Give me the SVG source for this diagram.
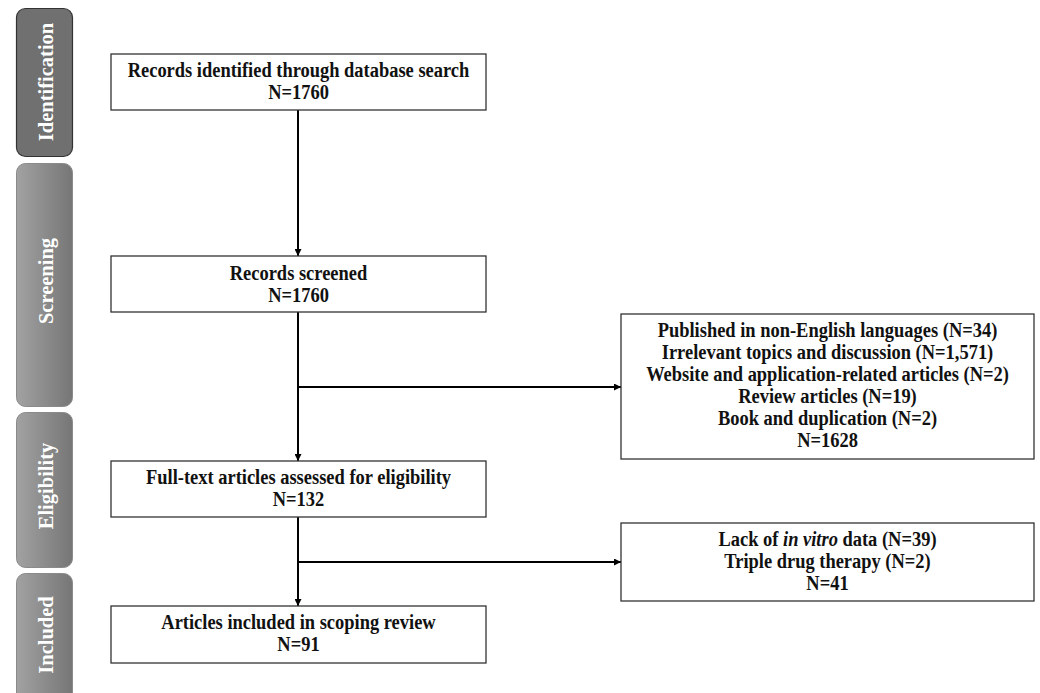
<svg xmlns="http://www.w3.org/2000/svg" width="1040" height="693" viewBox="0 0 1040 693">
<defs>
<linearGradient id="g" x1="0" y1="0" x2="1" y2="0">
<stop offset="0" stop-color="#a2a2a2"/>
<stop offset="1" stop-color="#767676"/>
</linearGradient>
<marker id="ah" viewBox="0 0 10 10" refX="10" refY="5" markerWidth="7" markerHeight="7" markerUnits="userSpaceOnUse" orient="auto">
<path d="M0,0 L10,5 L0,10 z" fill="#000"/>
</marker>
<style>
.box{fill:#fff;stroke:#333;stroke-width:1.3}
.t{font-family:"Liberation Serif","Times New Roman",serif;font-weight:bold;font-size:20.5px;fill:#111;text-anchor:middle}
.side{font-family:"Liberation Serif","Times New Roman",serif;font-weight:bold;font-size:20.5px;fill:#fff;text-anchor:middle}
.bar{fill:url(#g);stroke:#8a8a8a;stroke-width:1}
.line{fill:none;stroke:#000;stroke-width:2}
</style>
</defs>
<rect width="1040" height="693" fill="#fff"/>

<g id="phase-identification">
<rect x="16.5" y="8.5" width="56" height="148" rx="9" fill="#707070" stroke="#333" stroke-width="1.2"/>
<text class="side" transform="translate(53,82) rotate(-90)">Identification</text>
</g>
<g id="phase-screening">
<rect class="bar" x="16.5" y="163.5" width="56" height="243" rx="9"/>
<text class="side" transform="translate(53,281) rotate(-90)">Screening</text>
</g>
<g id="phase-eligibility">
<rect class="bar" x="16.5" y="412.5" width="56" height="155" rx="9"/>
<text class="side" transform="translate(53,486) rotate(-90)">Eligibility</text>
</g>
<g id="phase-included">
<rect class="bar" x="16.5" y="573.5" width="56" height="130" rx="9"/>
<text class="side" transform="translate(53,635) rotate(-90)">Included</text>
</g>

<g id="connectors">
<line class="line" x1="298" y1="110" x2="298" y2="256" marker-end="url(#ah)"/>
<line class="line" x1="298" y1="312" x2="298" y2="461" marker-end="url(#ah)"/>
<line class="line" x1="298" y1="387" x2="621" y2="387" marker-end="url(#ah)"/>
<line class="line" x1="298" y1="517" x2="298" y2="606" marker-end="url(#ah)"/>
<line class="line" x1="298" y1="562" x2="621" y2="562" marker-end="url(#ah)"/>
</g>

<g id="records-identified">
<rect class="box" x="111" y="54" width="375" height="56"/>
<text class="t" transform="translate(298.5,77) scale(0.9,1)">Records identified through database search</text>
<text class="t" transform="translate(298.5,99) scale(0.9,1)">N=1760</text>
</g>
<g id="records-screened">
<rect class="box" x="111" y="256" width="375" height="56"/>
<text class="t" transform="translate(298.5,280) scale(0.9,1)">Records screened</text>
<text class="t" transform="translate(298.5,302) scale(0.9,1)">N=1760</text>
</g>
<g id="full-text">
<rect class="box" x="111" y="461" width="375" height="56"/>
<text class="t" transform="translate(298.5,484) scale(0.9,1)">Full-text articles assessed for eligibility</text>
<text class="t" transform="translate(298.5,506) scale(0.9,1)">N=132</text>
</g>
<g id="included">
<rect class="box" x="111" y="606" width="375" height="57"/>
<text class="t" transform="translate(298.5,629) scale(0.9,1)">Articles included in scoping review</text>
<text class="t" transform="translate(298.5,651) scale(0.9,1)">N=91</text>
</g>
<g id="excluded-screening">
<rect class="box" x="621" y="314" width="413" height="145"/>
<text class="t" transform="translate(827.5,337) scale(0.9,1)">Published in non-English languages (N=34)</text>
<text class="t" transform="translate(827.5,359) scale(0.9,1)">Irrelevant topics and discussion (N=1,571)</text>
<text class="t" transform="translate(827.5,381) scale(0.9,1)">Website and application-related articles (N=2)</text>
<text class="t" transform="translate(827.5,403) scale(0.9,1)">Review articles (N=19)</text>
<text class="t" transform="translate(827.5,425) scale(0.9,1)">Book and duplication (N=2)</text>
<text class="t" transform="translate(827.5,447) scale(0.9,1)">N=1628</text>
</g>
<g id="excluded-eligibility">
<rect class="box" x="621" y="523" width="413" height="78"/>
<text class="t" transform="translate(827.5,546) scale(0.9,1)">Lack of <tspan font-style="italic">in vitro</tspan> data (N=39)</text>
<text class="t" transform="translate(827.5,568) scale(0.9,1)">Triple drug therapy (N=2)</text>
<text class="t" transform="translate(827.5,590) scale(0.9,1)">N=41</text>
</g>
</svg>
